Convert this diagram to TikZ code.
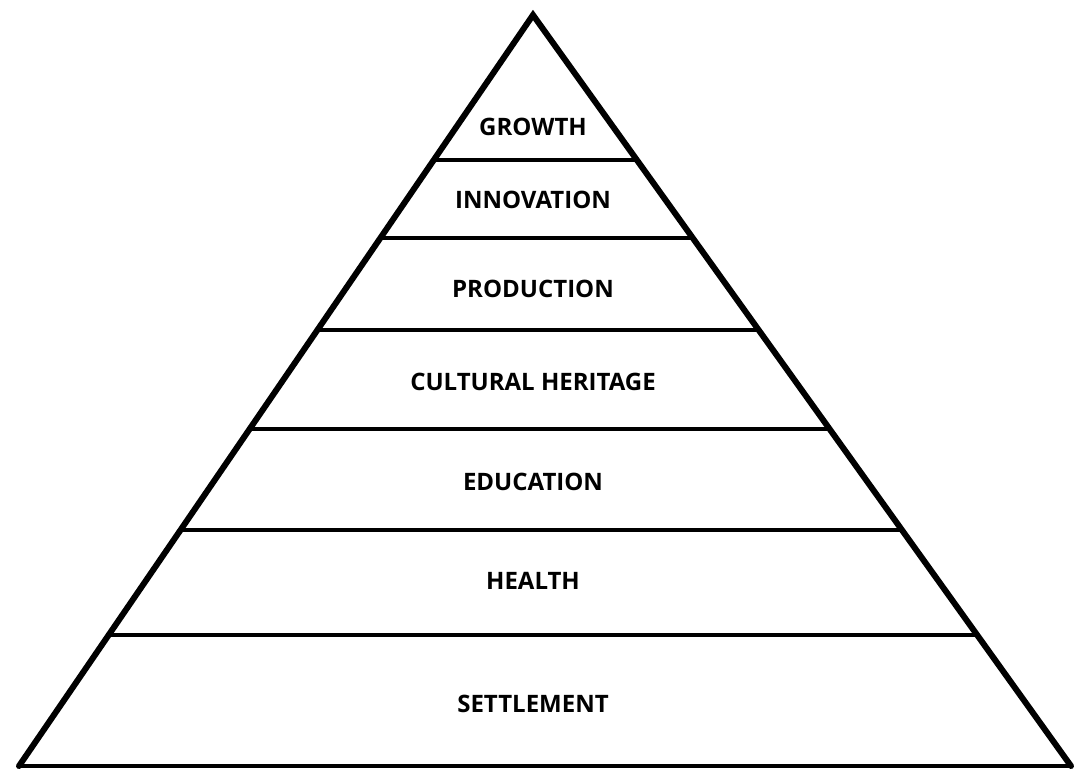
\documentclass[tikz,border=0pt]{standalone}
\usepackage{fontspec}
\setmainfont{Open Sans}
\usetikzlibrary{calc}
\tikzset{side/.style={black,line width=6pt,line join=miter,line cap=round},
         tier/.style={black,line width=4pt},
         lab/.style={font=\fontsize{24}{28}\selectfont\bfseries,inner sep=0pt}}

\begin{document}
\begin{tikzpicture}[x=1pt,y=-1pt]
     \useasboundingbox (0,0) rectangle (1075,769);
     \coordinate (top) at (533,15);
     \coordinate (bl) at (19,766);
     \coordinate (br) at (1071,766);
     \foreach \y in {160,238,330,429,530,635}{
      \draw[tier] ($(top)!{(\y-15)/751}!(bl)$) -- ($(top)!{(\y-15)/751}!(br)$);
     }
     \draw[tier] (bl) -- (br);
     \draw[side] (bl) -- (top) -- (br);
     \node[lab] (growth) at (533,127) {GROWTH};
     \node[lab] (innovation) at (533,200) {INNOVATION};
     \node[lab] (production) at (533,289) {PRODUCTION};
     \node[lab] (heritage) at (533,382) {CULTURAL HERITAGE};
     \node[lab] (education) at (533,482) {EDUCATION};
     \node[lab] (health) at (533,581) {HEALTH};
     \node[lab] (settlement) at (533,704) {SETTLEMENT};
\end{tikzpicture}
\end{document}
